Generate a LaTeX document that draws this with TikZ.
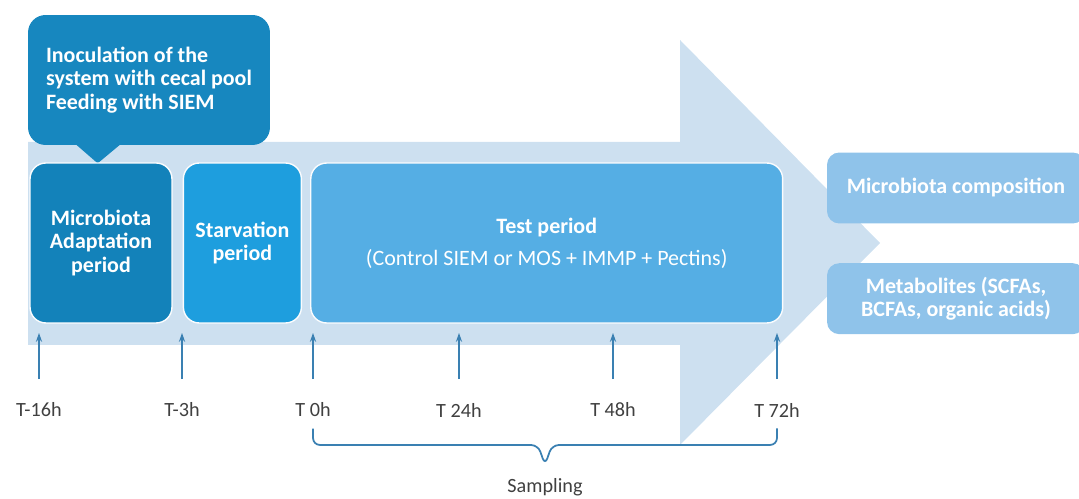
\documentclass[tikz,border=0pt]{standalone}
\usepackage{fontspec}
\setmainfont{Carlito}
\usepackage{tikz}
\usetikzlibrary{arrows.meta, positioning}
\definecolor{ArrowBlue}{HTML}{CDE0F0}
\definecolor{CalloutBlue}{HTML}{1787BF}
\definecolor{AdaptBlue}{HTML}{1382BA}
\definecolor{StarveBlue}{HTML}{1E9EDE}
\definecolor{TestBlue}{HTML}{55AEE4}
\definecolor{ResultBlue}{HTML}{8FC3EA}
\definecolor{TickBlue}{HTML}{3A80B2}
\definecolor{LabelGray}{HTML}{404040}

\begin{document}
\begin{tikzpicture}[x=0.02cm, y=-0.02cm,
  boxfont/.style={font=\fontsize{12.5}{13.4}\selectfont\bfseries},
  phase/.style={boxfont, draw=white!90!ArrowBlue, line width=0.8pt, rounded corners=9pt, text=white,
    align=center, inner sep=0pt, minimum height=3.2cm},
  result/.style={boxfont, fill=ResultBlue, rounded corners=7pt, text=white, align=center,
    inner sep=0pt, minimum width=5.16cm, minimum height=1.42cm},
  tick/.style={-{Stealth[length=5pt,width=3.5pt]}, TickBlue, line width=0.8pt},
  time/.style={text=LabelGray, font=\fontsize{11.5}{13}\selectfont},
  bracket/.style={TickBlue, line width=1pt, rounded corners=4pt},
]
  \useasboundingbox (0,0) rectangle (1079,499);
  \fill[ArrowBlue] (28,142) -- (680,142) -- (680,40) -- (880,243) -- (680,445) -- (680,345) -- (28,345) -- cycle;

  \node[boxfont, fill=CalloutBlue, rounded corners=10pt, text=white, align=left,
    minimum width=4.84cm, minimum height=2.6cm, inner sep=0pt]
    (callout) at (149,80) {Inoculation of the\\system with cecal pool\\Feeding with SIEM};
  \fill[CalloutBlue] ([shift={(47,-2)}]callout.south west) -- ([shift={(94,-2)}]callout.south west)
    -- ([shift={(70,18)}]callout.south west) -- cycle;

  \node[phase, fill=AdaptBlue, minimum width=2.84cm] (adapt) at (101,243) {Microbiota\\Adaptation\\period};
  \node[phase, fill=StarveBlue, minimum width=2.36cm, right=0.2cm of adapt] (starve) {Starvation\\period};
  \node[phase, fill=TestBlue, minimum width=9.44cm, right=0.16cm of starve] (test)
    {Test period\\[5pt]\mdseries (Control SIEM or MOS + IMMP + Pectins)};

  \node[result] (comp) at (956,188) {Microbiota composition};
  \node[result, below=0.78cm of comp] (metab) {Metabolites (SCFAs,\\BCFAs, organic acids)};

  \foreach \x/\lab/\name in {39/T-16h/m16, 182/T-3h/m3, 313/T 0h/p0, 459/T 24h/p24, 613/T 48h/p48, 777/T 72h/p72} {
    \node[time] (\name) at (\x,410) {\lab};
    \coordinate (\name top) at (\x,333);
    \draw[tick] ([yshift=10pt]\name.north) -- (\name top);
  }

  \coordinate (dip) at (545,465);
  \draw[bracket] ([yshift=-3pt]p0.south) -- (313,445) -- (538,445) -- (dip) -- (552,445) -- (777,445) -- ([yshift=-3pt]p72.south);
  \node[time, below=4pt of dip] (sampling) {Sampling};
\end{tikzpicture}
\end{document}
